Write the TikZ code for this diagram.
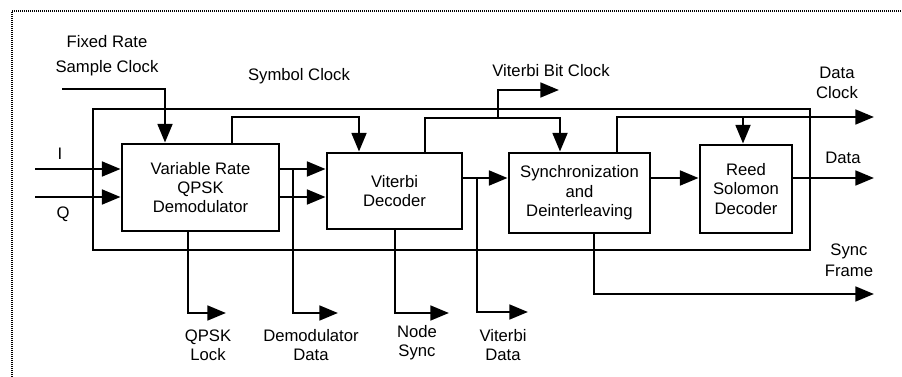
\documentclass[tikz,border=0pt]{standalone}
\usepackage{fontspec}
\setmainfont{Liberation Sans}
\usetikzlibrary{arrows.meta}
\newcommand{\lblfnt}{\fontsize{12.5}{14.5}\selectfont}
\begin{document}
\begin{tikzpicture}[x=0.75pt,y=-0.75pt,
  wire/.style={line width=2.1pt},
  arr/.style={wire,-{Triangle[length=14pt,width=11pt]}},
  blk/.style={draw,line width=2.1pt,inner sep=0pt,align=center,font=\lblfnt},
  lbl/.style={align=center,font=\lblfnt,inner sep=0pt},
  frame/.style={line width=2.2pt,dash pattern=on 1pt off 0.5pt}]
\useasboundingbox (0,0) rectangle (902,377);

% outer frame (top and left edges visible)
\coordinate (fr1) at (12,377);
\coordinate (fr2) at (12,11);
\coordinate (fr3) at (902,11);
\draw[frame] (fr1) -- (fr2) -- (fr3);

% blocks
\node[blk,minimum width=117.75pt,minimum height=65.25pt] (box1) at (200.5,187.5) {Variable Rate\\QPSK\\Demodulator};
\node[blk,minimum width=101.25pt,minimum height=57pt] (box2) at (394.5,191) {Viterbi\\Decoder};
\node[blk,minimum width=105.75pt,minimum height=60pt] (box3) at (579.5,193) {Synchronization\\and\\Deinterleaving};
\node[blk,minimum width=69pt,minimum height=66pt] (box4) at (746,189) {Reed\\Solomon\\Decoder};

% symbol clock loop
\coordinate (symA) at (93,109);
\coordinate (symB) at (810,250);
\draw[wire] (symA) rectangle (symB);

% inputs
\coordinate (Iin) at (35,169);
\coordinate (Qin) at (35,197);
\draw[arr] (Iin) -- (Iin -| box1.west);
\draw[arr] (Qin) -- (Qin -| box1.west);
\node[lbl] (Ilbl) at (60,154) {I};
\node[lbl] (Qlbl) at (63,214) {Q};

% fixed rate sample clock
\coordinate (fs) at (62,89);
\coordinate (fsx) at (165,89);
\draw[arr] (fs) -- (fsx) -- (fsx |- box1.north);
\node[lbl] (fixlbl) at (107,56) {Fixed Rate\\[4.25pt]Sample Clock};

\node[lbl] (symlbl) at (299,76) {Symbol Clock};

% demod -> viterbi clock
\coordinate (c1a) at (232,117);
\coordinate (c1b) at (359,117);
\draw[arr] (c1a |- box1.north) -- (c1a) -- (c1b) -- (c1b |- box2.north);

% demod -> viterbi data
\draw[arr] (box1.east |- Iin) -- (box2.west |- Iin);
\draw[arr] (box1.east |- Qin) -- (box2.west |- Qin);

% demodulator data
\coordinate (dd1) at (293,169);
\coordinate (dd2) at (293,313);
\coordinate (dd3) at (338,313);
\draw[arr] (dd1) -- (dd2) -- (dd3);
\node[lbl] (ddlbl) at (311,345) {Demodulator\\Data};

% QPSK lock
\coordinate (ql1) at (188,313);
\coordinate (ql2) at (226,313);
\draw[arr] (ql1 |- box1.south) -- (ql1) -- (ql2);
\node[lbl] (qllbl) at (208,345) {QPSK\\Lock};

% node sync
\coordinate (ns1) at (395,313);
\coordinate (ns2) at (449,313);
\draw[arr] (ns1 |- box2.south) -- (ns1) -- (ns2);
\node[lbl] (nslbl) at (417,343) {Node\\Sync};

% viterbi clock
\coordinate (vc1) at (425,118);
\coordinate (vc2) at (560,118);
\draw[arr] (vc1 |- box2.north) -- (vc1) -- (vc2) -- (vc2 |- box3.north);
\coordinate (vb1) at (498,118);
\coordinate (vb2) at (498,90);
\coordinate (vb3) at (559,90);
\draw[arr] (vb1) -- (vb2) -- (vb3);
\node[lbl] (vblbl) at (551,71) {Viterbi Bit Clock};

% viterbi -> sync data
\coordinate (vd0) at (477,178);
\coordinate (vd1) at (477,312);
\coordinate (vd2) at (528,312);
\draw[arr] (box2.east |- vd0) -- (box3.west |- vd0);
\draw[arr] (vd0) -- (vd1) -- (vd2);
\node[lbl] (vdlbl) at (503,345) {Viterbi\\Data};

% sync -> reed solomon
\draw[arr] (box3.east |- vd0) -- (box4.west |- vd0);

% data clock
\coordinate (dc1) at (617,117);
\coordinate (dc2) at (874,117);
\coordinate (dc3) at (743,117);
\draw[arr] (dc1 |- box3.north) -- (dc1) -- (dc2);
\draw[arr] (dc3) -- (dc3 |- box4.north);
\node[lbl] (dclbl) at (837,83) {Data\\[1pt]Clock};

% data out
\coordinate (dt) at (874,178);
\draw[arr] (box4.east |- dt) -- (dt);
\node[lbl] (dtlbl) at (843,158) {Data};

% sync frame
\coordinate (sf1) at (594,294);
\coordinate (sf2) at (874,294);
\draw[arr] (sf1 |- box3.south) -- (sf1) -- (sf2);
\node[lbl] (sflbl) at (849,260) {Sync\\[1pt]Frame};
\end{tikzpicture}
\end{document}
